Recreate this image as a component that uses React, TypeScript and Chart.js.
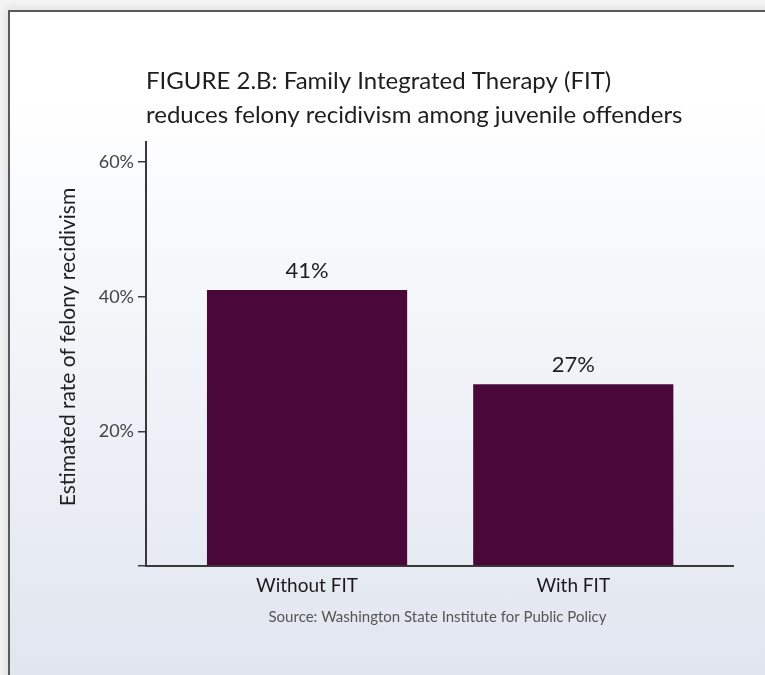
import React, { useEffect, useRef } from 'react';
import { Chart, registerables } from 'chart.js';

Chart.register(...registerables);

const categories = ['Without FIT', 'With FIT'];
const categoryPositions = [1, 2];
const recidivism = [41, 27];
const yTickValues = [0, 20, 40, 60];
const titleLines = [
  'FIGURE 2.B: Family Integrated Therapy (FIT)',
  'reduces felony recidivism among juvenile offenders',
];
const yAxisTitle = 'Estimated rate of felony recidivism';
const sourceText = 'Source: Washington State Institute for Public Policy';

const FONT = 'Lato, "Open Sans", sans-serif';

const textPlugin = {
  id: 'customTexts',
  afterDraw(chart: any) {
    const { ctx, chartArea } = chart;
    ctx.save();
    // title
    ctx.fillStyle = '#1e1e1e';
    ctx.font = `24px ${FONT}`;
    ctx.textAlign = 'left';
    ctx.textBaseline = 'alphabetic';
    ctx.fillText(titleLines[0], chartArea.left, 89);
    ctx.fillText(titleLines[1], chartArea.left, 123);

    // y-axis title
    ctx.save();
    ctx.translate(68, 347);
    ctx.rotate(-Math.PI / 2);
    ctx.textAlign = 'center';
    ctx.textBaseline = 'middle';
    ctx.font = `21px ${FONT}`;
    ctx.fillStyle = '#1e1e1e';
    ctx.fillText(yAxisTitle, 0, 0);
    ctx.restore();

    // data labels
    const meta = chart.getDatasetMeta(0);
    ctx.font = `22px ${FONT}`;
    ctx.fillStyle = '#1e1e1e';
    ctx.textAlign = 'center';
    ctx.textBaseline = 'alphabetic';
    meta.data.forEach((bar: any, i: number) => {
      ctx.fillText(`${recidivism[i]}%`, bar.x, bar.y - 12);
    });

    // source
    ctx.font = `15px ${FONT}`;
    ctx.fillStyle = '#555';
    ctx.textAlign = 'center';
    ctx.fillText(sourceText, (chartArea.left + chartArea.right) / 2 - 2, 622);
    ctx.restore();
  },
};

export default function App() {
  const ref = useRef<HTMLCanvasElement>(null);

  useEffect(() => {
    if (!ref.current) return;
    const chart = new Chart(ref.current, {
      type: 'bar',
      data: {
        datasets: [
          {
            data: categoryPositions.map((x, i) => ({ x, y: recidivism[i] })),
            backgroundColor: '#4a0838',
            borderWidth: 0,
            barPercentage: 0.752,
            categoryPercentage: 1,
          },
        ],
      },
      options: {
        responsive: false,
        animation: false,
        devicePixelRatio: 1,
        layout: { padding: { left: 0, top: 142, right: 32, bottom: 0 } },
        plugins: {
          legend: { display: false },
          tooltip: { enabled: false },
          title: { display: false },
        },
        scales: {
          x: {
            type: 'linear',
            offset: false,
            min: 0.395,
            max: 2.6,
            afterBuildTicks: (scale: any) => {
              scale.ticks = categoryPositions.map((v) => ({ value: v }));
            },
            afterFit: (scale: any) => {
              scale.height = 109;
            },
            ticks: {
              callback: (v: any) => categories[categoryPositions.indexOf(Number(v))] ?? '',
              font: { family: FONT, size: 19 },
              color: '#1a1a1a',
              padding: 8,
              maxRotation: 0,
              autoSkip: false,
            },
            grid: { display: true, drawOnChartArea: false, drawTicks: false },
            border: { display: true, color: '#3a3a3a', width: 2 },
          },
          y: {
            min: 0,
            max: 63,
            afterBuildTicks: (scale: any) => {
              scale.ticks = yTickValues.map((v) => ({ value: v }));
            },
            afterFit: (scale: any) => {
              scale.width = 146;
            },
            ticks: {
              callback: (v: any) => (Number(v) === 0 ? '' : `${v}%`),
              font: { family: FONT, size: 18 },
              color: '#444',
              padding: 4,
            },
            grid: {
              display: true,
              drawOnChartArea: false,
              drawTicks: true,
              tickLength: 8,
              color: '#3a3a3a',
              lineWidth: 1.5,
            },
            border: { display: true, color: '#3a3a3a', width: 2 },
          },
        },
      },
      plugins: [textPlugin],
    } as any);
    return () => chart.destroy();
  }, []);

  return (
    <div
      style={{
        position: 'fixed',
        left: 0,
        top: 0,
        width: 765,
        height: 675,
        overflow: 'hidden',
        background: '#f4f4f4',
      }}
    >
      <div
        style={{
          position: 'absolute',
          left: 8,
          top: 10,
          width: 780,
          height: 690,
          borderLeft: '2px solid #5a5a5a',
          borderTop: '2px solid #5a5a5a',
          background: 'linear-gradient(180deg, #ffffff 0%, #ffffff 12%, #dfe4ef 100%)',
          boxShadow: '-3px -3px 8px rgba(0,0,0,0.07)',
        }}
      />
      <canvas
        ref={ref}
        width={765}
        height={675}
        style={{ position: 'absolute', left: 0, top: 0, width: 765, height: 675 }}
      />
    </div>
  );
}
